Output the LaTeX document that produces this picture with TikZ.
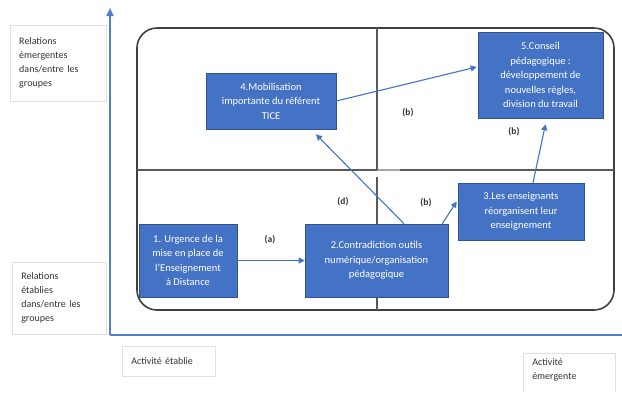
\documentclass[tikz,border=0pt]{standalone}
\usepackage{fontspec}
\setmainfont{Carlito}
\usetikzlibrary{arrows.meta}
\definecolor{boxblue}{RGB}{68,114,196}
\definecolor{boxedge}{RGB}{47,82,143}
\definecolor{axisblue}{RGB}{80,125,205}
\definecolor{frame}{RGB}{64,64,64}
\definecolor{divider}{RGB}{89,89,89}
\tikzset{
  stage/.style={draw=boxedge, line width=0.6pt, fill=boxblue, text=white,
    font=\fontsize{10.5}{14.5}\selectfont, align=center, inner sep=2pt},
  flow/.style={draw=boxblue, line width=1.1pt, -{Triangle[length=6pt,width=6pt]}},
  tag/.style={font=\bfseries\fontsize{9.5}{11}\selectfont, text=black!80},
  axislabel/.style={draw=black!12, line width=0.5pt, anchor=north west, align=left,
    font=\fontsize{10}{14}\selectfont, text=black!80, inner xsep=9pt},
  axisline/.style={draw=axisblue, line width=1.6pt}
}
\begin{document}
\begin{tikzpicture}[x=1pt,y=-1pt]
\clip (0,0) rectangle (622,392);
\fill[white] (0,0) rectangle (622,392);

% axes
\coordinate (origin) at (110,335);
\coordinate (ytop) at (110,8);
\coordinate (xend) at (622,335);
\draw[axisline, -{Triangle[length=8pt,width=7pt]}] (origin) -- (ytop);
\draw[axisline] (origin) -- (xend);

% rounded frame and quadrant dividers
\draw[frame, line width=1.6pt, rounded corners=20pt] (137,28) rectangle (614,310);
\coordinate (hl) at (137,170);
\coordinate (hm) at (377,170);
\coordinate (hg) at (400,170);
\coordinate (hr) at (614,170);
\draw[divider, line width=1.5pt] (hl) -- (hm);
\draw[black!35, line width=1.5pt] (hm) -- (hg);
\draw[divider, line width=1.5pt] (hg) -- (hr);
\coordinate (vt) at (377,28);
\coordinate (vb) at (377,310);
\coordinate (vgap) at (377,177);
\draw[divider, line width=1.5pt] (vt) -- (hm);
\draw[divider, line width=1.5pt] (vgap) -- (vb);

% axis labels
\node[axislabel, text width=78pt, minimum height=76pt] (yhigh) at (10,25)
  {Relations\\émergentes\\dans/entre les\\groupes};
\node[axislabel, text width=76pt, minimum height=72pt] (ylow) at (12,262)
  {Relations\\établies\\dans/entre les\\groupes};
\node[axislabel, text width=75pt, minimum height=30pt] (xlow) at (122,346)
  {Activité établie};
\node[axislabel, draw=none, text width=74pt] (xhigh) at (523,355)
  {Activité\\émergente};
\draw[black!12, line width=0.5pt] (523,392) -- (523,353) -- (615,353) -- (615,392);

% stages
\node[stage, minimum width=98pt, minimum height=73pt] (b1) at (188,260.5)
  {1. Urgence de la\\mise en place de\\l'Enseignement\\à Distance};
\node[stage, minimum width=143pt, minimum height=73pt] (b2) at (376.5,260.5)
  {2.Contradiction outils\\numérique/organisation\\pédagogique};
\node[stage, minimum width=126pt, minimum height=57pt] (b3) at (521,211.5)
  {3.Les enseignants\\réorganisent leur\\enseignement};
\node[stage, minimum width=130pt, minimum height=56pt] (b4) at (271,101)
  {4.Mobilisation\\importante du référent\\TICE};
\node[stage, minimum width=125pt, minimum height=86pt] (b5) at (540.5,75)
  {5.Conseil\\pédagogique :\\développement de\\nouvelles règles,\\division du travail};

% transitions
\draw[flow] (b1) -- (b2);
\draw[flow] ([xshift=27.5pt]b2.north) -- ([xshift=45pt,yshift=-5pt]b4.south);
\draw[flow] ([xshift=-6pt]b2.north east) -- ([xshift=-1pt,yshift=10pt]b3.west);
\draw[flow] (b4.east) -- ([xshift=-1pt,yshift=8pt]b5.west);
\draw[flow] ([xshift=12pt]b3.north) -- ([xshift=5pt,yshift=-6pt]b5.south);

% transition tags
\node[tag] (ta) at (270,240) {(a)};
\node[tag] (td) at (343,202) {(d)};
\node[tag] (tb1) at (426,203) {(b)};
\node[tag] (tb2) at (408,113) {(b)};
\node[tag] (tb3) at (514,132) {(b)};
\end{tikzpicture}
\end{document}
